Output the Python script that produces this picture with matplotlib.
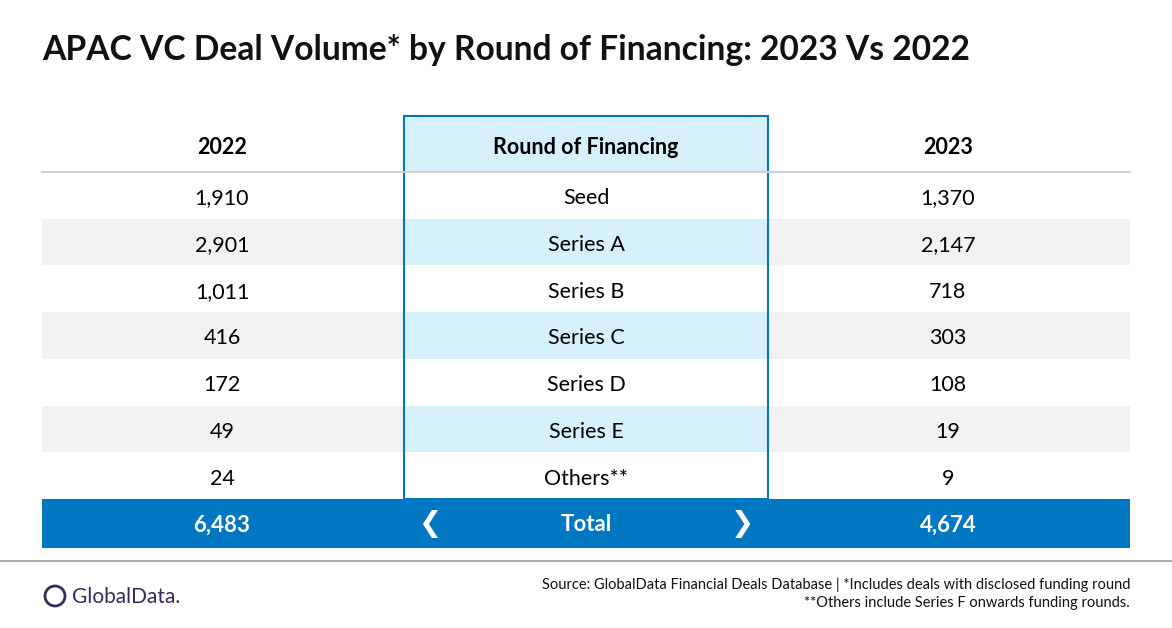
import matplotlib.pyplot as plt
from matplotlib.patches import Rectangle, Circle

plt.rcParams['font.family'] = ['Lato', 'DejaVu Sans']

rounds = ["Seed", "Series A", "Series B", "Series C", "Series D", "Series E", "Others**"]
vol_2022 = ["1,910", "2,901", "1,011", "416", "172", "49", "24"]
vol_2023 = ["1,370", "2,147", "718", "303", "108", "19", "9"]
total_2022 = "6,483"
total_2023 = "4,674"

BLUE = "#0077c0"
LIGHT = "#d6f1fc"
GRAY = "#f2f2f2"

fig = plt.figure(figsize=(11.72, 6.28), dpi=100)
ax = fig.add_axes([0, 0, 1, 1])
ax.set_xlim(0, 1172)
ax.set_ylim(628, 0)
ax.axis("off")

ax.text(42, 50, "APAC VC Deal Volume* by Round of Financing: 2023 Vs 2022",
        fontsize=24.2, fontweight="bold", va="center", ha="left", color="#111111")

left, right = 42, 1130
mid_l, mid_r = 404, 768
cx = [222, 586, 948]
fs = 15.5

# header
ax.add_patch(Rectangle((mid_l, 116), mid_r - mid_l, 56, color=LIGHT, lw=0))
for x, t in zip(cx, ["2022", "Round of Financing", "2023"]):
    ax.text(x, 147, t, fontsize=fs, fontweight="bold", ha="center", va="center")
ax.plot([left, right], [172, 172], color="#d0d0d0", lw=1.5)

row_top = 172
row_h = 46.7
for i, (r, a, b) in enumerate(zip(rounds, vol_2022, vol_2023)):
    y0 = row_top + i * row_h
    if i % 2 == 1:
        ax.add_patch(Rectangle((left, y0), right - left, row_h, color=GRAY, lw=0))
        ax.add_patch(Rectangle((mid_l, y0), mid_r - mid_l, row_h, color=LIGHT, lw=0))
    yc = y0 + row_h / 2 + 3
    ax.text(cx[0], yc, a, fontsize=fs, ha="center", va="center")
    ax.text(cx[1], yc, r, fontsize=fs, ha="center", va="center")
    ax.text(cx[2], yc, b, fontsize=fs, ha="center", va="center")

bottom = row_top + len(rounds) * row_h
ax.add_patch(Rectangle((mid_l, 116), mid_r - mid_l, bottom - 116, fill=False,
                       edgecolor=BLUE, lw=1.5))

# total row
ax.add_patch(Rectangle((left, bottom), right - left, 49, color=BLUE, lw=0))
ty = bottom + 26
for x, t in zip(cx, [total_2022, "Total", total_2023]):
    ax.text(x, ty, t, fontsize=16, fontweight="bold", color="white", ha="center", va="center")
ax.text(430, ty - 1, "\u276e", fontsize=20, fontweight="bold", color="white", ha="center", va="center", family=["DejaVu Sans"])
ax.text(742, ty - 1, "\u276f", fontsize=20, fontweight="bold", color="white", ha="center", va="center", family=["DejaVu Sans"])

ax.plot([0, 1172], [561, 561], color="#a0a0a0", lw=1.2)

# logo
ax.add_patch(Circle((55, 596), 10, fill=False, edgecolor="#3b2a5e", lw=2))
ax.text(72, 597, "GlobalData.", fontsize=15, color="#3b2a5e", ha="left", va="center")

ax.text(1130, 585, "Source: GlobalData Financial Deals Database | *Includes deals with disclosed funding round",
        fontsize=10.5, ha="right", va="center", color="#111111")
ax.text(1130, 603, "**Others include Series F onwards funding rounds.",
        fontsize=10.5, ha="right", va="center", color="#111111")

fig.savefig("out.png", dpi=100)
